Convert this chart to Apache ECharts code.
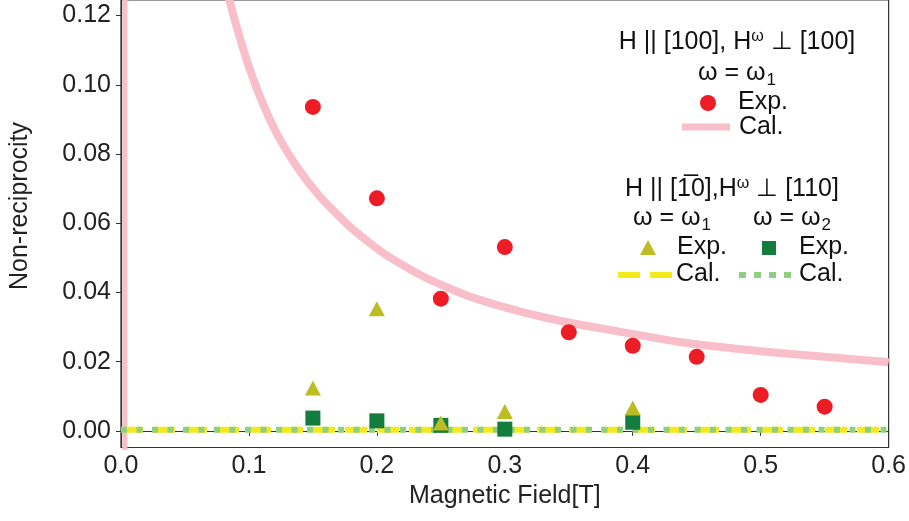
<!DOCTYPE html>
<html>
<head>
<meta charset="utf-8">
<script src="https://cdn.jsdelivr.net/npm/echarts@6/dist/echarts.min.js"></script>
<style>html,body{margin:0;padding:0;background:#fff}#c{width:909px;height:521px}</style>
</head>
<body>
<div id="c"></div>
<script>
// ---- data ----
const xTicks = [0, 0.1, 0.2, 0.3, 0.4, 0.5, 0.6];
const yTicks = [0, 0.02, 0.04, 0.06, 0.08, 0.10, 0.12];

// H || [100], ω = ω1, experiment
const field100 = [0.15, 0.20, 0.25, 0.30, 0.35, 0.40, 0.45, 0.50, 0.55];
const exp100 = [0.0936, 0.0672, 0.0382, 0.0531, 0.0285, 0.0246, 0.0214, 0.0104, 0.0070];

// H || [100], calculated curve
const calField100 = [0.075, 0.0846, 0.0904, 0.0982, 0.1086, 0.1216, 0.1373, 0.1555, 0.1789, 0.2049, 0.2362, 0.2727, 0.3117, 0.3455, 0.3742, 0.4367, 0.5148, 0.5984, 0.600];
const cal100 = [0.140, 0.1246, 0.1168, 0.1072, 0.0966, 0.0860, 0.0764, 0.0677, 0.0590, 0.0514, 0.0446, 0.0388, 0.0345, 0.0316, 0.0297, 0.0257, 0.0225, 0.0199, 0.0198];
// vertical branch at x ≈ 0
const calField100b = [0.003, 0.003];
const cal100b = [-0.02, 0.5];

// H || [1-10], experiment ω1 and ω2
const field110 = [0.15, 0.20, 0.25, 0.30, 0.40];
const exp110w1 = [0.0124, 0.0353, 0.0023, 0.0056, 0.0066];
const exp110w2 = [0.0037, 0.0029, 0.0016, 0.0005, 0.0025];

// H || [1-10], calculated (flat near zero)
const calField110 = [0, 0.6];
const cal110w1 = [0.0003, 0.0003];
const cal110w2 = [0.0003, 0.0003];

const zip = (a, b) => a.map((v, i) => [v, b[i]]);
const FONT = "'Liberation Sans', Arial, sans-serif";
const FS = 25;
const RED = '#ee1c25', PINK = '#f8bfcb', OLIVE = '#bcbd22', DGREEN = '#127d3c', YEL = '#f2ea1a', LGREEN = '#8fd080';

const chart = echarts.init(document.getElementById('c'), null, {renderer: 'canvas'});

const txt = (text, x, y, align) => ({
  type: 'text', x: x, y: y, z: 100,
  style: {
    text: text, fill: '#111', font: FS + 'px ' + FONT,
    align: align, verticalAlign: 'middle', textAlign: align, textVerticalAlign: 'middle',
    rich: {
      sub: {fontSize: 17, fontFamily: FONT, fill: '#111', padding: [14, 0, 0, 1]},
      sup: {fontSize: 16, fontFamily: FONT, fill: '#111', padding: [0, 0, 11, 0]},
      n: {fontSize: FS, fontFamily: FONT, fill: '#111'}
    }
  }
});

const option = {
  animation: false,
  backgroundColor: '#fff',
  grid: {left: 121, right: 20, top: 0, bottom: 73.5, show: true, borderColor: '#333', borderWidth: 1.2, containLabel: false},
  xAxis: {
    type: 'value', min: 0, max: 0.6, interval: 0.1,
    axisLine: {show: true, lineStyle: {color: '#333', width: 1.2}},
    axisTick: {show: true, length: 5, lineStyle: {color: '#333'}},
    axisLabel: {fontSize: FS, fontFamily: FONT, color: '#222', margin: 6, formatter: v => v.toFixed(1),
      customValues: xTicks},
    splitLine: {show: false},
    name: 'Magnetic Field[T]', nameLocation: 'middle', nameGap: 33,
    nameTextStyle: {fontSize: FS, fontFamily: FONT, color: '#222'}
  },
  yAxis: {
    type: 'value', min: -0.0048, max: 0.1245,
    axisLine: {show: true, lineStyle: {color: '#333', width: 1.2}},
    axisTick: {show: true, length: 5, lineStyle: {color: '#333'}, customValues: yTicks},
    axisLabel: {fontSize: FS, fontFamily: FONT, color: '#222', margin: 10, formatter: v => v.toFixed(2),
      customValues: yTicks},
    splitLine: {show: false}
  },
  series: [
    {name: 'Cal. [100]', type: 'line', data: zip(calField100, cal100), smooth: 0.2,
      showSymbol: false, clip: true, lineStyle: {color: PINK, width: 8}, z: 2},
    {name: 'Cal. [100] b', type: 'line', data: zip(calField100b, cal100b),
      showSymbol: false, clip: true, lineStyle: {color: PINK, width: 5}, z: 2},
    {name: 'Cal. ω1', type: 'line', data: zip(calField110, cal110w1), showSymbol: false, clip: true,
      lineStyle: {color: YEL, width: 6, type: [22, 10]}, z: 3},
    {name: 'Cal. ω2', type: 'line', data: zip(calField110, cal110w2), showSymbol: false, clip: true,
      lineStyle: {color: LGREEN, width: 6, type: [6, 9.5]}, z: 4},
    {name: 'Exp. [100]', type: 'scatter', data: zip(field100, exp100), symbol: 'circle', symbolSize: 16,
      itemStyle: {color: RED, opacity: 1}, z: 5},
    {name: 'Exp. ω2', type: 'scatter', data: zip(field110, exp110w2), symbol: 'rect', symbolSize: 15,
      itemStyle: {color: DGREEN, opacity: 1}, z: 6},
    {name: 'Exp. ω1', type: 'scatter', data: zip(field110, exp110w1), symbol: 'triangle', symbolSize: [16, 15],
      itemStyle: {color: OLIVE, opacity: 1}, z: 7}
  ],
  graphic: [
    // y-axis title
    {type: 'text', x: 20, y: 206, rotation: Math.PI / 2, z: 100,
      style: {text: 'Non-reciprocity', font: FS + 'px ' + FONT, fill: '#222', align: 'center', verticalAlign: 'middle',
        textAlign: 'center', textVerticalAlign: 'middle'}},
    // legend block 1
    txt('{n|H || [100], H}{sup|ω}{n| ⊥ [100]}', 737, 42, 'center'),
    txt('{n|ω = ω}{sub|1}', 737, 73, 'center'),
    {type: 'circle', shape: {cx: 708, cy: 103, r: 8}, style: {fill: RED}, z: 100},
    txt('Exp.', 738, 102, 'left'),
    {type: 'line', shape: {x1: 682, y1: 127, x2: 730, y2: 127}, style: {stroke: PINK, lineWidth: 7}, z: 100},
    txt('Cal.', 739, 127, 'left'),
    // legend block 2
    txt('{n|H || [1\u03050],H}{sup|ω}{n| ⊥ [110]}', 732, 189, 'center'),
    txt('{n|ω = ω}{sub|1}', 672, 218, 'center'),
    txt('{n|ω = ω}{sub|2}', 792, 218, 'center'),
    {type: 'polygon', shape: {points: [[648, 240], [656, 255], [640, 255]]}, style: {fill: OLIVE}, z: 100},
    txt('Exp.', 677, 247, 'left'),
    {type: 'rect', shape: {x: 762, y: 241, width: 14, height: 14}, style: {fill: DGREEN}, z: 100},
    txt('Exp.', 799, 247, 'left'),
    {type: 'line', shape: {x1: 618, y1: 275, x2: 672, y2: 275}, style: {stroke: YEL, lineWidth: 6, lineDash: [22, 10]}, z: 100},
    txt('Cal.', 676, 274, 'left'),
    {type: 'line', shape: {x1: 739, y1: 275, x2: 794, y2: 275}, style: {stroke: LGREEN, lineWidth: 6, lineDash: [7, 8]}, z: 100},
    txt('Cal.', 799, 274, 'left')
  ]
};
chart.setOption(option);
</script>
</body>
</html>
